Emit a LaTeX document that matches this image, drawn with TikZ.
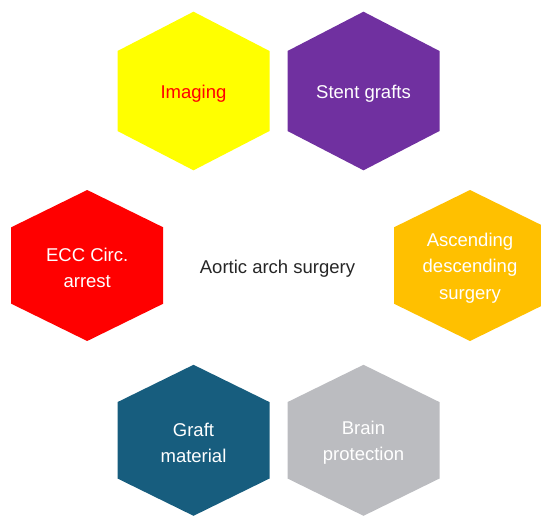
\documentclass[tikz,border=0pt]{standalone}
\usepackage{fontspec}
\setmainfont{Liberation Sans}
\definecolor{hexyellow}{HTML}{FFFF00}
\definecolor{hexpurple}{HTML}{7030A0}
\definecolor{hexred}{HTML}{FF0000}
\definecolor{hexamber}{HTML}{FFC000}
\definecolor{hexblue}{HTML}{175D7E}
\definecolor{hexgray}{HTML}{BBBCC0}
\definecolor{hubtext}{HTML}{262626}
% one hexagonal cell: centre x, centre y, half height, corner offset, fill, node name, text, text colour
\newcommand{\hexcell}[8]{%
  \begin{scope}[shift={(#1,#2)}]
    \fill[#5] (0,-#3) -- (76,-#4) -- (76,#4) -- (0,#3) -- (-76,#4) -- (-76,-#4) -- cycle;
    \node[celltext, text=#8] (#6) at (0,2.5) {#7};
  \end{scope}}
\begin{document}
\begin{tikzpicture}[x=1pt,y=-1pt,
  celltext/.style={align=center, inner sep=0pt,
    font=\fontsize{18.5}{26.5}\selectfont}]
\useasboundingbox (0,0) rectangle (541,517);
\clip (0,0) rectangle (541,517);
\hexcell{193.5}{91}{79.3}{40}{hexyellow}{imaging}{Imaging}{hexred}
\hexcell{363.5}{91}{79.3}{40}{hexpurple}{stent}{Stent grafts}{white}
\hexcell{87.2}{265.5}{75.5}{38.2}{hexred}{ecc}{ECC Circ.\\arrest}{white}
\hexcell{470}{265.5}{75.5}{38.2}{hexamber}{ascending}{Ascending\\descending\\surgery}{white}
\hexcell{193.5}{440.3}{75.5}{38.2}{hexblue}{graft}{Graft\\material}{white}
\hexcell{363.5}{440.3}{75.5}{38.2}{hexgray}{brain}{Brain\\protection}{white}
\node[celltext, text=hubtext] (hub) at (277.5,268.5) {Aortic arch surgery};
\end{tikzpicture}
\end{document}
